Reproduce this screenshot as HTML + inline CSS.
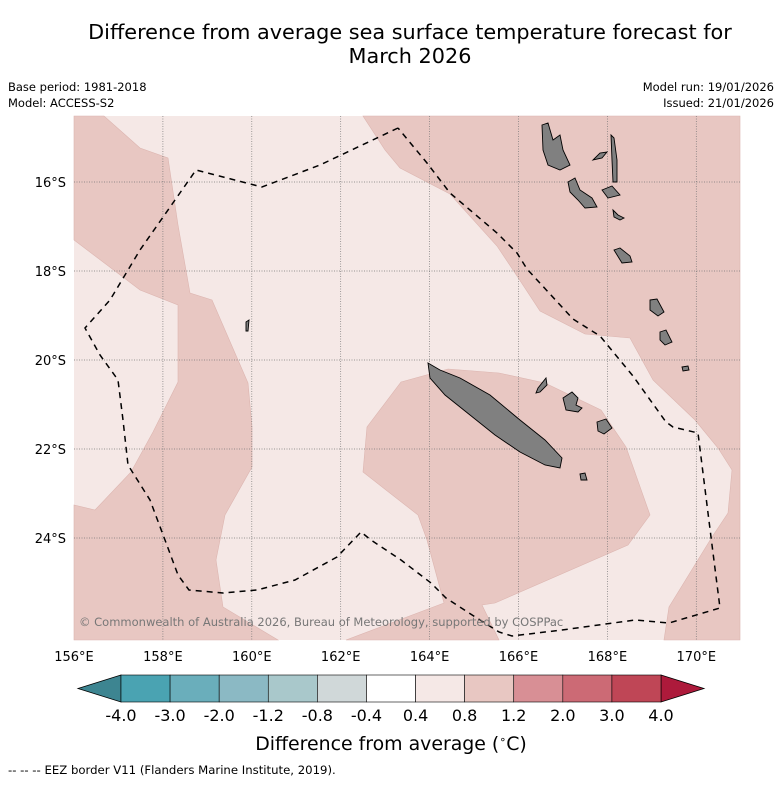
<!DOCTYPE html>
<html><head><meta charset="utf-8"><style>
body{margin:0;background:#fff;width:781px;height:781px;overflow:hidden;font-family:"DejaVu Sans","Liberation Sans",sans-serif}
</style></head><body>
<svg id="chart" width="781" height="781" viewBox="0 0 781 781" xmlns="http://www.w3.org/2000/svg" font-family="DejaVu Sans, Liberation Sans, sans-serif">
<text x="410" y="39" font-size="20.8" text-anchor="middle">Difference from average sea surface temperature forecast for</text>
<text x="410" y="63" font-size="20.8" text-anchor="middle">March 2026</text>
<text x="8" y="91" font-size="11.5">Base period: 1981-2018</text>
<text x="8" y="107" font-size="11.5">Model: ACCESS-S2</text>
<text x="774" y="91" font-size="11.5" text-anchor="end">Model run: 19/01/2026</text>
<text x="774" y="107" font-size="11.5" text-anchor="end">Issued: 21/01/2026</text>
<g id="map"></g>
<g id="cbar"></g>
<text x="391" y="750" font-size="18.9" text-anchor="middle">Difference from average (<tspan font-size="11" dy="-7">∘</tspan><tspan dy="7">C)</tspan></text>
<text x="8" y="774" font-size="11.7">--  --  -- EEZ border V11 (Flanders Marine Institute, 2019).</text>
</svg>
<script>
const lonTicks=[156,158,160,162,164,166,168,170];
const latTicks=[16,18,20,22,24];
const cbLevels=["-4.0","-3.0","-2.0","-1.2","-0.8","-0.4","0.4","0.8","1.2","2.0","3.0","4.0"];
const cbColors=["#4aa3b2","#6aaebb","#8bb9c4","#a9c8cb","#d0d8d9","#ffffff","#f5e8e6","#e8c7c2","#d88f95","#cc6a75","#bf4656"];
const NS="http://www.w3.org/2000/svg";
const X0=74,X1=740,Y0=116,Y1=640;
function xs(lon){return 74+(lon-156)*44.45;}
function ys(lat){return 182+(lat-16)*44.5;}
function mk(t,a,p){const e=document.createElementNS(NS,t);for(const k in a)e.setAttribute(k,a[k]);p.appendChild(e);return e;}
const map=document.getElementById('map');
const light=mk('rect',{x:X0,y:Y0,width:X1-X0,height:Y1-Y0,fill:'#f5e8e6'},map);


const dark=[
"74,116 104,116 140,148 168,158 178,225 190,293 212,300 238,360 248,383 252,427 252,467 225,515 216,560 223,607 278,640 74,640 74,505 95,510 131,472 153,432 178,382 178,305 140,290 74,240",
"363,116 740,116 740,640 664,640 669,607 712,537 728,513 732,470 718,448 695,420 653,380 630,338 585,334 540,311 517,276 497,246 450,194 400,168 385,150",
"401,382 448,369 499,373 545,383 601,410 626,447 650,515 628,545 495,603 482,605 499,640 346,640 444,603 427,540 418,515 363,472 367,427"];
dark.forEach((p,i)=>{const e=mk('polygon',{points:p,fill:'#e8c7c2',stroke:'#dcb5b0','stroke-width':0.6},map);

});
const grid=mk('g',{stroke:'#777','stroke-width':0.7,'stroke-dasharray':'1,1.5'},map);
lonTicks.forEach(l=>{if(l>156){const e=mk('line',{x1:xs(l),x2:xs(l),y1:Y0,y2:Y1},grid);}
const t=mk('text',{x:xs(l),y:661,'font-size':13,'text-anchor':'middle'},map);t.textContent=l+'°E';

});
latTicks.forEach(l=>{const e=mk('line',{x1:X0,x2:X1,y1:ys(l),y2:ys(l)},grid);
const t=mk('text',{x:66,y:ys(l)+5,'font-size':13,'text-anchor':'end'},map);t.textContent=l+'°S';

});
const islands=[
"428,363 440,370 460,378 490,395 520,420 545,440 562,458 560,468 545,465 520,452 495,435 470,415 445,395 430,378",
"542,125 548,123 553,140 560,135 563,150 570,165 560,170 548,165 543,150",
"568,182 575,178 580,190 592,198 597,207 585,208 578,200 570,192",
"602,190 612,186 620,195 608,198",
"593,160 600,153 607,152 602,158",
"611,135 614,138 617,160 617,182 613,182 612,160",
"613,210 618,215 624,218 620,220 614,217",
"614,250 620,248 630,256 632,262 622,263",
"650,300 657,299 664,312 658,316 650,310",
"660,332 666,330 672,342 665,345 660,340",
"563,398 572,392 578,398 576,405 582,408 578,412 566,410",
"597,422 606,419 612,428 604,434 598,431",
"538,388 546,378 547,385 540,392 536,393",
"580,474 585,473 587,480 581,480",
"682,367 688,366 689,370 683,371",
"246,322 249,320 248,331 246,331"];
islands.forEach(p=>{const e=mk('polygon',{points:p,fill:'#808080',stroke:'#000','stroke-width':0.9},map);

});
const eez=mk('polyline',{points:"398,128 320,165 262,187 196,170 175,200 140,250 110,300 85,328 100,355 118,380 123,420 128,465 150,500 165,540 178,575 189,590 223,593 257,590 295,580 337,557 361,532 371,540 401,560 431,583 446,598 469,613 499,632 512,636 562,630 635,620 669,623 720,608 711,537 698,433 673,427 666,422 633,376 600,336 573,319 527,269 517,253 497,233 450,193 427,163 398,128",fill:'none',stroke:'#000','stroke-width':1.5,'stroke-dasharray':'6,5'},map);


const cr=mk('text',{x:79,y:626,'font-size':11.5,fill:'#777'},map);cr.textContent='© Commonwealth of Australia 2026, Bureau of Meteorology, supported by COSPPac';


const cb=document.getElementById('cbar');
const CX0=121,CX1=661,CY0=675,CY1=702,bw=(CX1-CX0)/cbColors.length;
const under=mk('polygon',{points:`${CX0},${CY0} 78,${(CY0+CY1)/2} ${CX0},${CY1}`,fill:'#3d8591',stroke:'#000','stroke-width':0.8},cb);


const over=mk('polygon',{points:`${CX1},${CY0} 704,${(CY0+CY1)/2} ${CX1},${CY1}`,fill:'#ad1a3b',stroke:'#000','stroke-width':0.8},cb);


cbColors.forEach((c,i)=>{const r=mk('rect',{x:CX0+i*bw,y:CY0,width:bw,height:CY1-CY0,fill:c,stroke:'#000','stroke-width':0.6},cb);

});
cbLevels.forEach((l,i)=>{const t=mk('text',{x:CX0+i*bw,y:721,'font-size':16,'text-anchor':'middle'},cb);t.textContent=l;

});
</script>
</body></html>
